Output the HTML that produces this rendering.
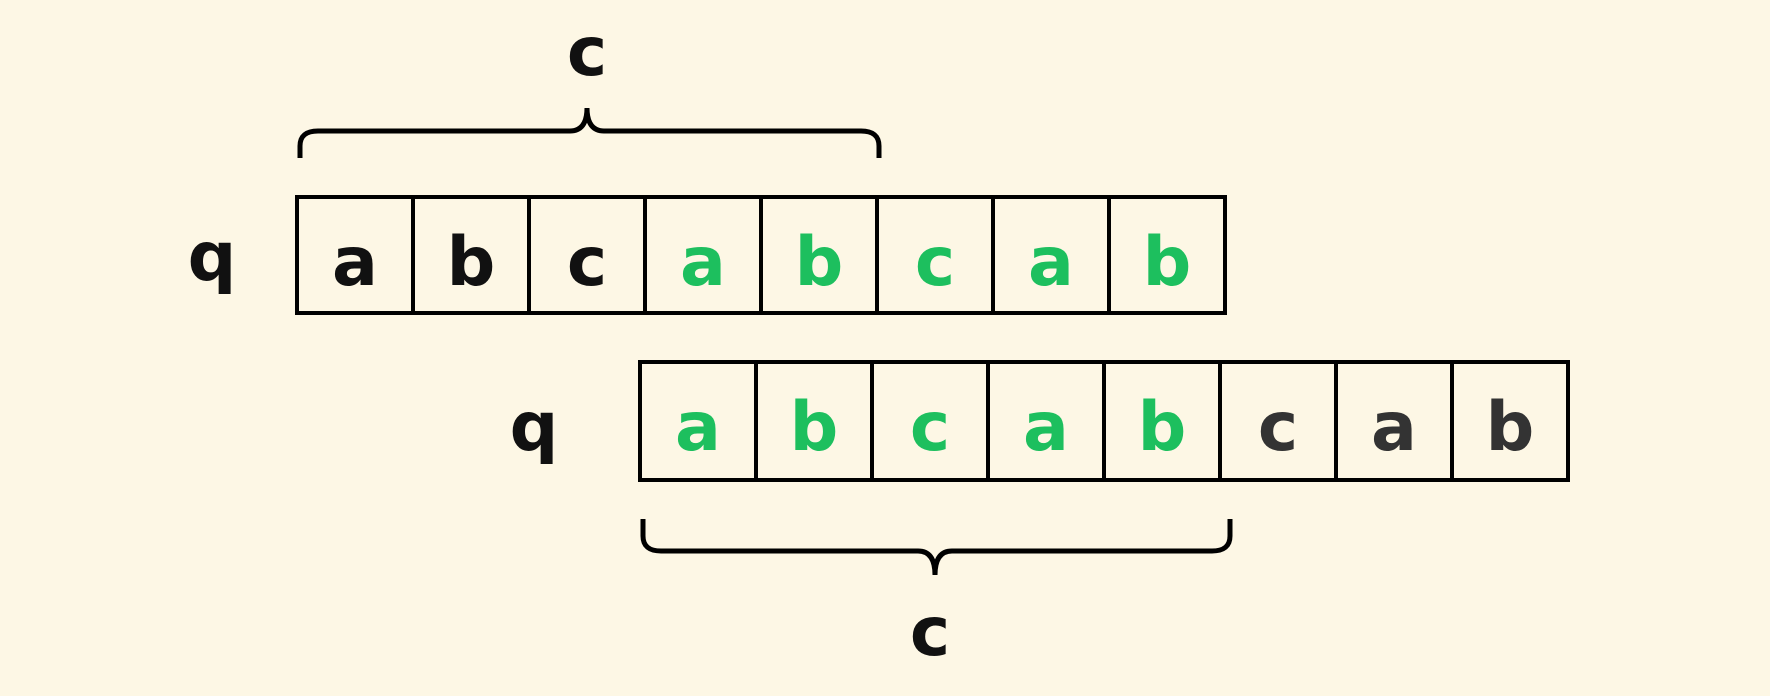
<!DOCTYPE html>
<html><head><meta charset="utf-8"><style>
html,body{margin:0;padding:0;background:#fdf7e5;}
svg{display:block}
text{font-family:"DejaVu Sans","Liberation Sans",sans-serif;font-weight:bold;font-size:68px;text-anchor:middle;}
</style></head><body>
<svg width="1770" height="696" viewBox="0 0 1770 696">
<rect width="1770" height="696" fill="#fdf7e5"/>
<g fill="none" stroke="#000" stroke-width="4">
<rect x="297" y="197" width="928" height="116"/>
<line x1="413" y1="197" x2="413" y2="313"/><line x1="529" y1="197" x2="529" y2="313"/><line x1="645" y1="197" x2="645" y2="313"/><line x1="761" y1="197" x2="761" y2="313"/><line x1="877" y1="197" x2="877" y2="313"/><line x1="993" y1="197" x2="993" y2="313"/><line x1="1109" y1="197" x2="1109" y2="313"/>
<rect x="640" y="362" width="928" height="118"/>
<line x1="756" y1="362" x2="756" y2="480"/><line x1="872" y1="362" x2="872" y2="480"/><line x1="988" y1="362" x2="988" y2="480"/><line x1="1104" y1="362" x2="1104" y2="480"/><line x1="1220" y1="362" x2="1220" y2="480"/><line x1="1336" y1="362" x2="1336" y2="480"/><line x1="1452" y1="362" x2="1452" y2="480"/>
</g>
<g fill="none" stroke="#000" stroke-width="5">
<path d="M300 158 V146 Q300 131 318 131 H570 Q587 131 587 108 Q587 131 604 131 H861 Q879 131 879 146 V158"/>
<path d="M643 519 V536 Q643 551 661 551 H918 Q935 551 935 575 M935 575 Q935 551 952 551 H1212 Q1230 551 1230 536 V519"/>
</g>
<g fill="#111">
<text x="212" y="280">q</text>
<text x="355" y="285">a</text><text x="471" y="285">b</text><text x="587" y="285">c</text>
<text x="534" y="450">q</text>
<text x="587" y="75">c</text>
<text x="930" y="655">c</text>
</g>
<g fill="#1dbf5e">
<text x="703" y="285">a</text><text x="819" y="285">b</text><text x="935" y="285">c</text><text x="1051" y="285">a</text><text x="1167" y="285">b</text>
<text x="698" y="450">a</text><text x="814" y="450">b</text><text x="930" y="450">c</text><text x="1046" y="450">a</text><text x="1162" y="450">b</text>
</g>
<g fill="#333">
<text x="1278" y="450">c</text><text x="1394" y="450">a</text><text x="1510" y="450">b</text>
</g>
</svg>
</body></html>
